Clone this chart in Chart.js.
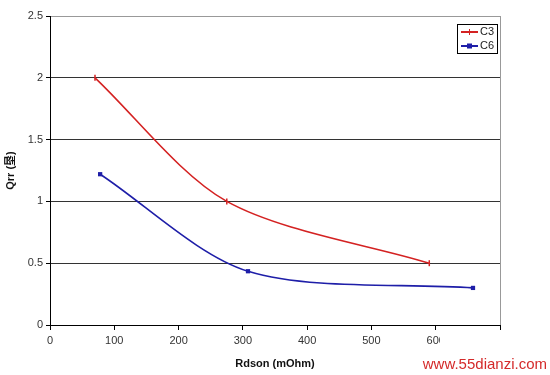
<!DOCTYPE html>
<html>
<head>
<meta charset="utf-8">
<script src="https://cdn.jsdelivr.net/npm/chart.js@4/dist/chart.umd.min.js"></script>
<style>
  html, body { margin: 0; padding: 0; background: #fff; }
  #wrap { width: 550px; height: 375px; position: relative; }
</style>
</head>
<body>
<div id="wrap"><canvas id="qrrChart"></canvas></div>
<script>
// values
const c3Rdson = [70, 275, 590];
const c3Qrr = [2.0, 1.0, 0.5];
const c6Rdson = [78, 308, 658];
const c6Qrr = [1.22, 0.435, 0.3];
const xTicks = [0, 100, 200, 300, 400, 500, 600, 700];
const yTicks = [0, 0.5, 1, 1.5, 2, 2.5];

const toPoints = (xs, ys) => xs.map((x, i) => ({ x: x, y: ys[i] }));

// legend box, right border and the site watermark
const extras = {
    id: 'extras',
    afterDraw(chart) {
        const c = chart.ctx;
        const a = chart.chartArea;
        c.save();
        c.strokeStyle = '#999';
        c.lineWidth = 1;
        c.beginPath();
        c.moveTo(Math.round(a.right) + 0.5, a.top);
        c.lineTo(Math.round(a.right) + 0.5, a.bottom);
        c.stroke();

        // legend
        const lx = 457, ly = 24, lw = 40, lh = 29;
        c.fillStyle = '#fff';
        c.fillRect(lx, ly, lw, lh);
        c.strokeStyle = '#000';
        c.strokeRect(lx + 0.5, ly + 0.5, lw, lh);
        c.font = '11px "Liberation Sans", Arial, sans-serif';
        c.textBaseline = 'middle';
        chart.data.datasets.forEach((ds, i) => {
            const y = ly + 8 + i * 14;
            c.strokeStyle = ds.borderColor;
            c.lineWidth = 2;
            c.beginPath();
            c.moveTo(lx + 4, y);
            c.lineTo(lx + 21, y);
            c.stroke();
            if (ds.pointStyle === 'rect') {
                c.fillStyle = ds.borderColor;
                c.fillRect(lx + 10, y - 2.5, 5, 5);
            } else {
                c.lineWidth = 1;
                c.beginPath();
                c.moveTo(lx + 12.5, y - 3);
                c.lineTo(lx + 12.5, y + 3);
                c.stroke();
            }
            c.fillStyle = '#222';
            c.fillText(ds.label, lx + 23, y);
        });

        // watermark patch
        c.fillStyle = '#fff';
        c.fillRect(440, 335, 72, 19);
        c.fillStyle = '#d42a2a';
        c.font = '15px "Liberation Sans", Arial, sans-serif';
        c.textBaseline = 'alphabetic';
        c.textAlign = 'right';
        c.fillText('www.55dianzi.com', 547, 369);
        c.restore();
    }
};

new Chart(document.getElementById('qrrChart').getContext('2d'), {
    type: 'line',
    data: {
        datasets: [{
            label: 'C3',
            data: toPoints(c3Rdson, c3Qrr),
            borderColor: '#d42222',
            backgroundColor: '#d42222',
            borderWidth: 1.6,
            tension: 0.3,
            pointStyle: 'line',
            rotation: 90,
            pointRadius: 3,
            pointBorderWidth: 1.5
        }, {
            label: 'C6',
            data: toPoints(c6Rdson, c6Qrr),
            borderColor: '#1e1ea8',
            backgroundColor: '#1e1ea8',
            borderWidth: 1.6,
            tension: 0.3,
            pointStyle: 'rect',
            pointRadius: 3,
            pointBorderWidth: 0
        }]
    },
    options: {
        responsive: true,
        maintainAspectRatio: false,
        animation: false,
        layout: { padding: { top: 16, right: 50, bottom: 0, left: 0 } },
        plugins: { legend: { display: false }, tooltip: { enabled: false } },
        scales: {
            x: {
                type: 'linear',
                min: 0,
                max: 700,
                afterBuildTicks: s => { s.ticks = xTicks.map(v => ({ value: v })); },
                afterFit: s => { s.height = 50; },
                grid: { drawOnChartArea: false, drawTicks: true, tickLength: 5, tickColor: '#000' },
                border: { color: '#000', width: 1 },
                ticks: { color: '#333', padding: 4, font: { family: '"Liberation Sans", Arial, sans-serif', size: 11 } },
                title: {
                    display: true,
                    text: 'Rdson (mOhm)',
                    color: '#111',
                    padding: { top: 0 },
                    font: { family: '"Liberation Sans", Arial, sans-serif', size: 11, weight: 'bold' }
                }
            },
            y: {
                min: 0,
                max: 2.5,
                afterBuildTicks: s => { s.ticks = yTicks.map(v => ({ value: v })); },
                afterFit: s => { s.width = 50; },
                grid: {
                    color: ctx => (ctx.tick && ctx.tick.value === 2.5 ? '#999' : '#333'),
                    tickLength: 4,
                    tickColor: '#000'
                },
                border: { color: '#000', width: 1 },
                ticks: {
                    color: '#333',
                    padding: 3,
                    callback: v => String(v),
                    font: { family: '"Liberation Sans", Arial, sans-serif', size: 11 }
                },
                title: {
                    display: true,
                    text: 'Qrr (垦)',
                    color: '#111',
                    padding: { bottom: 4 },
                    font: { family: '"Liberation Sans", "Noto Sans CJK SC", Arial, sans-serif', size: 11, weight: 'bold' }
                }
            }
        }
    },
    plugins: [extras]
});
</script>
</body>
</html>
